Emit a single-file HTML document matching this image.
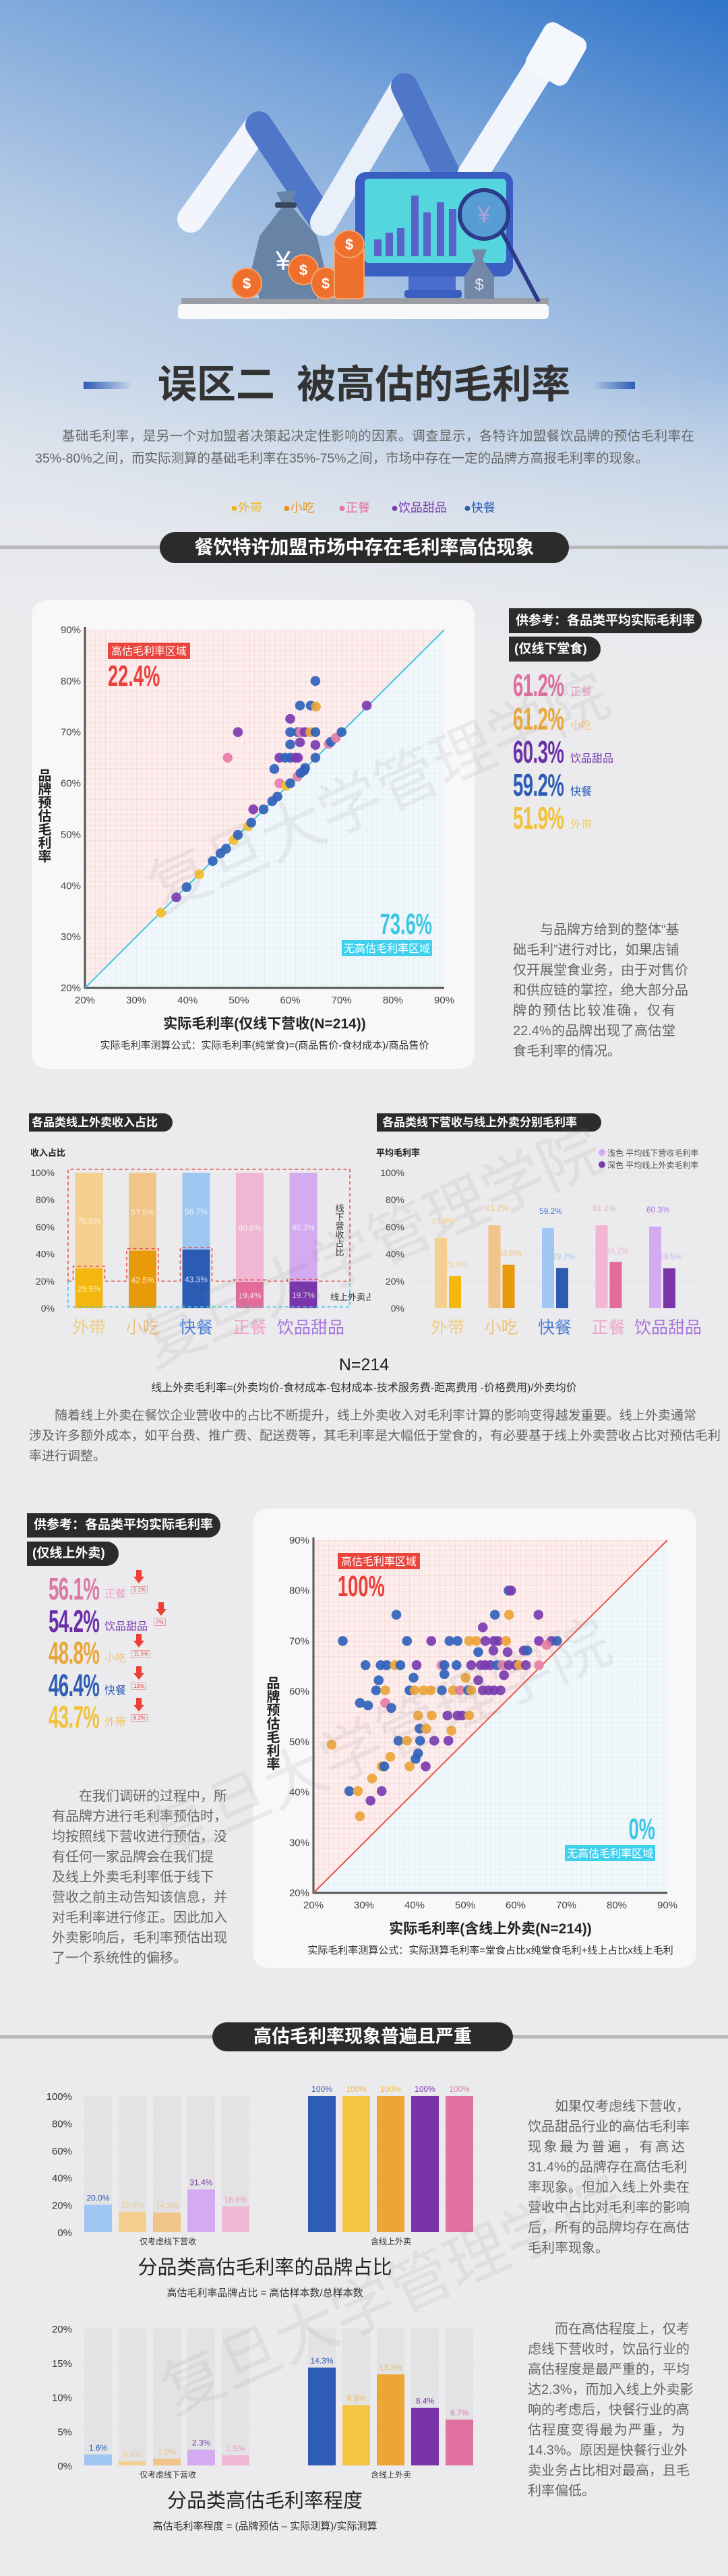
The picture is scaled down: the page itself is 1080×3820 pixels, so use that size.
<!DOCTYPE html>
<html><head><meta charset="utf-8">
<style>
*{margin:0;padding:0;box-sizing:border-box}
body{width:1080px;height:3820px;position:relative;overflow:hidden;background:#ebebed;font-family:"Liberation Sans","Noto Sans CJK SC",sans-serif;color:#444}
.abs{position:absolute}
.pill{position:absolute;background:#2b2b2b;color:#fff;font-weight:bold;border-radius:0 22px 22px 0;white-space:nowrap}
.cpill{position:absolute;background:#2b2b2b;color:#fff;font-weight:bold;border-radius:24px;text-align:center;white-space:nowrap}
.para{position:absolute;color:#666;font-size:20px;line-height:30px}
.para span{display:block;text-align:justify;text-align-last:justify;white-space:nowrap;overflow:visible}
.para span.l{text-align-last:left}
.big{position:absolute;font-weight:bold;font-size:46px;line-height:40px;transform:scaleX(0.6);transform-origin:left center;white-space:nowrap;letter-spacing:-1px}
.lab{position:absolute;font-size:19px;white-space:nowrap}
.wm{position:absolute;font-size:92px;color:rgba(130,130,130,0.11);white-space:nowrap;transform:translate(-50%,-50%) rotate(-24deg);pointer-events:none;z-index:5}
svg text{font-family:"Liberation Sans","Noto Sans CJK SC",sans-serif}
</style></head><body>

<div class="abs" style="left:0;top:0;width:1080px;height:1000px;background:linear-gradient(180deg,rgba(235,235,237,0) 55%,#ebebed 100%),linear-gradient(200deg,#2f74c9 0%,#7aa5da 25%,#b5cbe6 50%,#dfe5ee 80%,#e6e8ec 100%)"></div>

<svg class="abs" style="left:0;top:0" width="1080" height="500" viewBox="0 0 1080 500">
  <g stroke-linecap="round" fill="none">
    <path d="M283,325 L384,185" stroke="#f2f6fc" stroke-width="40"/>
    <path d="M384,185 L480,330" stroke="#4f77c8" stroke-width="40"/>
    <path d="M480,330 L600,128" stroke="#e9f0fa" stroke-width="40"/>
    <path d="M600,128 L676,285" stroke="#4f77c8" stroke-width="40"/>
    <path d="M700,260 L820,70" stroke="#f0f5fc" stroke-width="44"/>
  </g>
  <rect x="790" y="40" width="70" height="80" rx="14" fill="#f4f8fd" transform="rotate(30 825 80)"/>
  <rect x="269" y="442" width="545" height="9" fill="#9a9da3"/>
  <rect x="264" y="451" width="550" height="22" rx="6" fill="#f8f9fb"/>
  <rect x="527" y="255" width="234" height="155" rx="16" fill="#3a5fc3"/>
  <rect x="541" y="265" width="210" height="125" rx="6" fill="#55d6df"/>
  <g fill="#5a63c9">
    <rect x="555" y="355" width="11" height="25"/><rect x="572" y="345" width="11" height="35"/><rect x="589" y="338" width="11" height="42"/>
    <rect x="610" y="290" width="11" height="90"/><rect x="628" y="315" width="11" height="65"/><rect x="648" y="300" width="11" height="80"/><rect x="666" y="310" width="11" height="70"/>
  </g>
  <rect x="606" y="410" width="70" height="32" fill="#4a6ccc"/>
  <rect x="600" y="430" width="85" height="12" rx="4" fill="#3a5fc3"/>
  <line x1="745" y1="345" x2="798" y2="445" stroke="#2c3a8a" stroke-width="6" stroke-linecap="round"/>
  <circle cx="718" cy="318" r="36" fill="rgba(90,110,200,0.55)" stroke="#2c3a8a" stroke-width="6"/>
  <text x="718" y="330" font-size="34" fill="#b0a0d8" text-anchor="middle">¥</text>
  <path d="M410,285 L440,282 L432,305 L470,350 L482,400 L470,443 L385,443 L373,400 L385,350 L420,305 Z" fill="#6783a6"/>
  <rect x="408" y="300" width="32" height="8" rx="3" fill="#35465e"/>
  <text x="420" y="400" font-size="40" fill="#fff" text-anchor="middle">¥</text>
  <g fill="#ef6f2c" stroke="#f7a36c" stroke-width="2">
    <circle cx="366" cy="420" r="22"/>
    <ellipse cx="450" cy="400" rx="22" ry="22"/>
    <ellipse cx="483" cy="420" rx="21" ry="23"/>
    <rect x="496" y="365" width="44" height="78" rx="6"/>
    <ellipse cx="518" cy="362" rx="22" ry="20"/>
  </g>
  <g fill="#fff" font-size="22" font-weight="bold" text-anchor="middle">
    <text x="366" y="428">$</text><text x="483" y="428">$</text><text x="518" y="370">$</text><text x="450" y="408">$</text>
  </g>
  <path d="M700,370 L722,370 L716,385 L733,410 L733,443 L689,443 L689,410 L705,385 Z" fill="#7388a8"/>
  <text x="711" y="430" font-size="24" fill="#dfe6f0" text-anchor="middle">$</text>
</svg>

<div class="abs" style="left:124px;top:566px;width:72px;height:11px;background:linear-gradient(90deg,#2d5cb5,rgba(45,92,181,0))"></div>
<div class="abs" style="left:880px;top:566px;width:62px;height:11px;background:linear-gradient(270deg,#2d5cb5,rgba(45,92,181,0))"></div>
<div class="abs" style="left:230px;top:538px;width:620px;text-align:center;font-size:58px;font-weight:bold;color:#333;line-height:66px">误区二&nbsp;&nbsp;被高估的毛利率</div>

<div class="para" style="left:52px;top:631px;width:978px;font-size:19.5px;line-height:33px">
  <span>　　基础毛利率，是另一个对加盟者决策起决定性影响的因素。调查显示，各特许加盟餐饮品牌的预估毛利率在</span>
  <span class="l">35%-80%之间，而实际测算的基础毛利率在35%-75%之间，市场中存在一定的品牌方高报毛利率的现象。</span>
</div>

<div class="abs" style="left:0;top:739px;width:1080px;height:26px;font-size:18px">
  <span class="abs" style="left:342px;color:#f2b619">●外带</span>
  <span class="abs" style="left:420px;color:#e8961a">●小吃</span>
  <span class="abs" style="left:502px;color:#e4729e">●正餐</span>
  <span class="abs" style="left:580px;color:#7b3bb0">●饮品甜品</span>
  <span class="abs" style="left:688px;color:#2d5cb5">●快餐</span>
</div>

<div class="abs" style="left:0;top:809px;width:1080px;height:5px;background:#b8b8ba"></div>
<div class="cpill" style="left:237px;top:789px;width:607px;height:46px;line-height:46px;font-size:28px">餐饮特许加盟市场中存在毛利率高估现象</div>

<div class="abs" style="left:47px;top:890px;width:657px;height:695px;background:#f8f8f9;border-radius:22px"></div>
<svg class="abs" id="sc1" style="left:47px;top:890px" width="657" height="695" viewBox="47 890 657 695"></svg>

<div class="pill" style="left:755px;top:902px;width:286px;height:37px;line-height:37px;font-size:19px;padding-left:10px">供参考：各品类平均实际毛利率</div>
<div class="pill" style="left:755px;top:944px;width:136px;height:37px;line-height:37px;font-size:19px;padding-left:8px">(仅线下堂食)</div>

<div class="big" style="left:761px;top:996px;color:#df6f9f">61.2%</div><div class="lab" style="left:846px;top:1012px;color:#e7a0bf;font-size:16px">正餐</div>
<div class="big" style="left:761px;top:1046px;color:#eda93a">61.2%</div><div class="lab" style="left:846px;top:1062px;color:#efc285;font-size:16px">小吃</div>
<div class="big" style="left:761px;top:1095px;color:#6a2fa6">60.3%</div><div class="lab" style="left:846px;top:1111px;color:#7b3bb0;font-size:16px">饮品甜品</div>
<div class="big" style="left:761px;top:1144px;color:#2d5cb5">59.2%</div><div class="lab" style="left:846px;top:1160px;color:#2d5cb5;font-size:16px">快餐</div>
<div class="big" style="left:761px;top:1193px;color:#f2c23a">51.9%</div><div class="lab" style="left:846px;top:1209px;color:#f2c860;font-size:16px">外带</div>

<div class="para" style="left:761px;top:1364px;width:241px">
<span>　　与品牌方给到的整体“基</span><span>础毛利”进行对比，如果店铺</span><span>仅开展堂食业务，由于对售价</span><span>和供应链的掌控，绝大部分品</span><span>牌的预估比较准确，仅有</span><span>22.4%的品牌出现了高估堂</span><span class="l">食毛利率的情况。</span>
</div>

<div class="pill" style="left:43px;top:1651px;width:213px;height:27px;line-height:27px;font-size:17px;padding-left:4px">各品类线上外卖收入占比</div>
<div class="pill" style="left:559px;top:1651px;width:333px;height:27px;line-height:27px;font-size:17px;padding-left:8px">各品类线下营收与线上外卖分别毛利率</div>
<svg class="abs" id="bar1" style="left:30px;top:1695px" width="520" height="300" viewBox="30 1695 520 300"></svg>
<svg class="abs" id="bar2" style="left:550px;top:1695px" width="510" height="300" viewBox="550 1695 510 300"></svg>

<div class="abs" style="left:0;top:2010px;width:1080px;text-align:center;font-size:25px;color:#222">N=214</div>
<div class="abs" style="left:0;top:2044px;width:1080px;text-align:center;font-size:16px;color:#333">线上外卖毛利率=(外卖均价-食材成本-包材成本-技术服务费-距离费用 -价格费用)/外卖均价</div>
<div class="para" style="left:43px;top:2085px;width:990px;font-size:19px">
<span>　　随着线上外卖在餐饮企业营收中的占比不断提升，线上外卖收入对毛利率计算的影响变得越发重要。线上外卖通常</span><span>涉及许多额外成本，如平台费、推广费、配送费等，其毛利率是大幅低于堂食的，有必要基于线上外卖营收占比对预估毛利</span><span class="l">率进行调整。</span>
</div>

<div class="pill" style="left:40px;top:2244px;width:287px;height:36px;line-height:36px;font-size:19px;padding-left:10px">供参考：各品类平均实际毛利率</div>
<div class="pill" style="left:40px;top:2286px;width:136px;height:36px;line-height:36px;font-size:19px;padding-left:8px">(仅线上外卖)</div>
<div id="ref2"></div>

<div class="para" style="left:77px;top:2649px;width:240px">
<span>　　在我们调研的过程中，所</span><span>有品牌方进行毛利率预估时，</span><span>均按照线下营收进行预估，没</span><span>有任何一家品牌会在我们提</span><span>及线上外卖毛利率低于线下</span><span>营收之前主动告知该信息，并</span><span>对毛利率进行修正。因此加入</span><span>外卖影响后，毛利率预估出现</span><span class="l">了一个系统性的偏移。</span>
</div>

<div class="abs" style="left:375px;top:2237px;width:658px;height:681px;background:#f8f8f9;border-radius:22px"></div>
<svg class="abs" id="sc2" style="left:375px;top:2237px" width="658" height="681" viewBox="375 2237 658 681"></svg>

<div class="abs" style="left:0;top:3018px;width:1080px;height:5px;background:#b8b8ba"></div>
<div class="cpill" style="left:315px;top:2999px;width:446px;height:43px;line-height:43px;font-size:27px">高估毛利率现象普遍且严重</div>
<svg class="abs" id="bar3" style="left:50px;top:3080px" width="700" height="340" viewBox="50 3080 700 340"></svg>
<svg class="abs" id="bar4" style="left:50px;top:3430px" width="700" height="340" viewBox="50 3430 700 340"></svg>

<div class="para" style="left:783px;top:3109px;width:233px">
<span>　　如果仅考虑线下营收，</span><span>饮品甜品行业的高估毛利率</span><span>现象最为普遍，有高达</span><span>31.4%的品牌存在高估毛利</span><span>率现象。但加入线上外卖在</span><span>营收中占比对毛利率的影响</span><span>后，所有的品牌均存在高估</span><span class="l">毛利率现象。</span>
</div>
<div class="para" style="left:783px;top:3439px;width:233px">
<span>　　而在高估程度上，仅考</span><span>虑线下营收时，饮品行业的</span><span>高估程度是最严重的，平均</span><span>达2.3%，而加入线上外卖影</span><span>响的考虑后，快餐行业的高</span><span>估程度变得最为严重，为</span><span>14.3%。原因是快餐行业外</span><span>卖业务占比相对最高，且毛</span><span class="l">利率偏低。</span>
</div>

<div class="wm" style="left:558px;top:1168px">复旦大学管理学院</div>
<div class="wm" style="left:548px;top:1842px">复旦大学管理学院</div>
<div class="wm" style="left:561px;top:2572px">复旦大学管理学院</div>
<div class="wm" style="left:578px;top:3395px">复旦大学管理学院</div>

<script>
const catColors = {"外带":"#f2bd2c","小吃":"#eba43a","正餐":"#e57ea6","饮品甜品":"#7b3bb0","快餐":"#3062bb"};
const s1Actual = [34.8,37.8,39.8,42.3,44.9,46.4,47.5,49,49.8,51.8,52.4,52.8,54.8,56.5,57.5,56.9,57.9,59.2,60,61.4,62,62.7,62.9,57.9,59,60,61,61.5,64.9,60,61.9,64.9,67.5,67.9,68.9,70,60,61.5,62,62.8,63.9,64.9,49.8,47.8,60,61.9,64,65,64.9,74.9];
const s1Est    = [34.7,37.7,39.7,42.2,44.8,46.3,47.2,48.9,49.9,51.6,52.3,54.9,54.9,56.5,57.4,62.8,60,59.5,60,61.3,62,62.5,63,65,65,65,65,65,65,67.6,68,67.5,67.7,68.1,68.9,70,70,70,70,70,70,70,70,65,72.6,75.2,75.2,75,80,75.2];
const s1Cat    = ["外带","饮品甜品","快餐","外带","快餐","快餐","快餐","外带","快餐","外带","快餐","饮品甜品","快餐","快餐","快餐","快餐","正餐","外带","快餐","正餐","快餐","快餐","快餐","饮品甜品","快餐","快餐","饮品甜品","饮品甜品","快餐","快餐","饮品甜品","饮品甜品","正餐","快餐","正餐","快餐","快餐","快餐","正餐","饮品甜品","小吃","快餐","饮品甜品","正餐","饮品甜品","快餐","快餐","小吃","快餐","饮品甜品"];
const s2Actual = [58.6,59.1,36.4,55.9,58.7,64.5,53.5,25.8,38.5,43.3,46.9,48.5,50.8,52.2,54,55.7,56.5,58.1,64.6,67.1,68.2,52.6,55.6,58.4,61.6,62.3,66.1,30.3,33.3,34.5,36.1,37.2,40.4,45.3,45.9,48.3,51.2,53.1,54,55,56.3,57.4,58.6,60,60.7,62,64.6,39.8,45.9,50.1,52.6,57.7,32.9,32.4,34.2,39,40,41.8,43.2,45.4,47.6,49,50.6,51.2,53.5,54.6,55.7,57,29.2,30.8,34.2,35.4,40.7,43.4,46.5,48.5,49.4,50.8,41,42.3,47.3,23.6,36.8,38.5,41.1,43.9,46.7,40.7,35.2,40.2,33.5,34,39,42.2,31.6,27.1,28.8,33.5,31.3,29.2];
const s2Est    = [80,80,75.2,75.2,75.2,75.2,72.7,70,70,70,70,70,70,70,70,70,70,70,70,70,70,67.8,68.1,67.8,68.1,68.1,69.2,65.2,65.2,65.2,65.2,65.2,65.2,65.2,65.2,65.2,65.2,65.2,65.2,65.2,65.2,65.2,65.2,65.2,65.2,65.2,65.2,62.7,63.4,62.7,62.2,63.2,62.2,60.2,60.2,60.2,60.2,60.2,60.2,60.2,60.2,60.2,60.2,60.2,60.2,60.2,60.2,60.2,57.7,57.2,57.7,56.7,55.2,55.2,55.2,55.2,55.2,55.2,52.6,52.6,52.2,49.4,50.2,50.2,50.2,50.2,50.2,47.7,47,46.6,45.1,45.1,45.1,45.1,42.7,40.2,40.2,40.2,38.3,35.2];
const s2Cat    = ["快餐","饮品甜品","快餐","快餐","小吃","饮品甜品","饮品甜品","快餐","快餐","饮品甜品","快餐","快餐","小吃","小吃","饮品甜品","饮品甜品","饮品甜品","小吃","饮品甜品","饮品甜品","快餐","快餐","饮品甜品","饮品甜品","饮品甜品","快餐","正餐","快餐","快餐","快餐","小吃","快餐","饮品甜品","正餐","快餐","快餐","饮品甜品","饮品甜品","饮品甜品","饮品甜品","快餐","正餐","饮品甜品","饮品甜品","小吃","饮品甜品","正餐","快餐","快餐","小吃","饮品甜品","饮品甜品","快餐","快餐","小吃","快餐","小吃","小吃","小吃","快餐","小吃","正餐","快餐","小吃","饮品甜品","饮品甜品","饮品甜品","饮品甜品","快餐","快餐","正餐","快餐","小吃","小吃","饮品甜品","饮品甜品","饮品甜品","小吃","快餐","小吃","小吃","小吃","快餐","小吃","快餐","饮品甜品","饮品甜品","快餐","小吃","快餐","小吃","快餐","小吃","饮品甜品","小吃","快餐","小吃","饮品甜品","饮品甜品","小吃"];
const scatterTicks = [20,30,40,50,60,70,80,90];
const barCats = ["外带","小吃","快餐","正餐","饮品甜品"];
const onlineShare = [29.5,42.5,43.3,19.4,19.7];
const offlineShare = [70.5,57.5,56.7,80.6,80.3];
const offlineMargin = [51.9,61.2,59.2,61.2,60.3];
const onlineMargin = [23.8,32.0,29.7,34.2,29.5];
const shareTicks = [0,20,40,60,80,100];
const ref2Cats = ["正餐","饮品甜品","小吃","快餐","外带"];
const ref2Values = ["56.1%","54.2%","48.8%","46.4%","43.7%"];
const ref2Drops = ["5.1%","7%","11.5%","12%","8.2%"];
const overCats = ["快餐","外带","小吃","饮品甜品","正餐"];
const overShareOffline = [20.0,15.0,14.3,31.4,18.8];
const overShareOnline = [100,100,100,100,100];
const overDegreeOffline = [1.6,0.6,1.0,2.3,1.5];
const overDegreeOnline = [14.3,8.8,13.3,8.4,6.7];
const degreeTicks = [0,5,10,15,20];

const NS="http://www.w3.org/2000/svg";
function mk(parent,tag,attrs,text){const e=document.createElementNS(NS,tag);for(const k in attrs)e.setAttribute(k,attrs[k]);if(text!==undefined)e.textContent=text;parent.appendChild(e);return e;}

const lightC={"外带":"#f4d08f","小吃":"#f1c489","快餐":"#9fc7f1","正餐":"#f0b6d3","饮品甜品":"#d4aaf1"};
const darkC={"外带":"#f3b70f","小吃":"#e99a0b","快餐":"#2b5bb3","正餐":"#e36c9a","饮品甜品":"#7b35ab"};
const labC={"外带":"#f1cd7d","小吃":"#efc27d","快餐":"#4f7fd2","正餐":"#eea6c5","饮品甜品":"#a874dc"};
const grp2C={"快餐":"#2f5cb4","外带":"#f6c443","小吃":"#eba636","饮品甜品":"#7a33aa","正餐":"#e071a1"};

function scatter(id,X0,X1,Y0,Y1,xs,ys,cats,diag,xTitle,formula,topPct,botPct,fx){
  const svg=document.getElementById(id);
  const sx=v=>X0+(v-20)/70*(X1-X0), sy=v=>Y0-(v-20)/70*(Y0-Y1);
  const pid=id+'p';
  const defs=mk(svg,'defs',{});
  const cell=(X1-X0)/70;
  const p1=mk(defs,'pattern',{id:pid+'r',width:cell,height:cell,patternUnits:'userSpaceOnUse',x:X0,y:Y1});
  mk(p1,'rect',{width:cell,height:cell,fill:'#fdeeee'});
  mk(p1,'path',{d:`M${cell},0 L0,0 L0,${cell}`,stroke:'#f2c4c4','stroke-width':0.8,fill:'none'});
  const p2=mk(defs,'pattern',{id:pid+'b',width:cell,height:cell,patternUnits:'userSpaceOnUse',x:X0,y:Y1});
  mk(p2,'rect',{width:cell,height:cell,fill:'#f1f8fb'});
  mk(p2,'path',{d:`M${cell},0 L0,0 L0,${cell}`,stroke:'#d3e7ef','stroke-width':0.8,fill:'none'});
  const up=mk(svg,'polygon',{points:`${X0},${Y0} ${X0},${Y1} ${X1},${Y1}`,fill:`url(#${pid}r)`});
  
  
  const dn=mk(svg,'polygon',{points:`${X0},${Y0} ${X1},${Y0} ${X1},${Y1}`,fill:`url(#${pid}b)`});
  
  
  const ax=mk(svg,'path',{d:`M${X0},${Y1-4} L${X0},${Y0} L${X1},${Y0}`,stroke:'#555',fill:'none','stroke-width':3});
  
  
  scatterTicks.forEach(t=>{
    const yl=mk(svg,'text',{x:X0-6,y:sy(t)+5,'font-size':15,fill:'#444','text-anchor':'end'},t+'%');
    
    
    const xl=mk(svg,'text',{x:sx(t),y:Y0+23,'font-size':15,fill:'#444','text-anchor':'middle'},t+'%');
    
    
  });
  const dl=mk(svg,'line',{x1:sx(20),y1:sy(20),x2:sx(90),y2:sy(90),stroke:diag,'stroke-width':2});
  
  
  xs.forEach((v,i)=>{
    const c=mk(svg,'circle',{cx:sx(v),cy:sy(ys[i]),r:7.3,fill:catColors[cats[i]],opacity:0.92});
    
    
  });
  const bx=X0+(fx?36:34);
  const rb=mk(svg,'rect',{x:bx,y:Y1+19,width:122,height:24,fill:'#e9453c'});
  
  
  mk(svg,'text',{x:bx+61,y:Y1+37,'font-size':16,fill:'#fff','text-anchor':'middle'},'高估毛利率区域');
  const tp=mk(svg,'text',{x:bx,y:Y1+83,'font-size':44,'font-weight':'bold',fill:'#e8403a',transform:`translate(${bx},0) scale(0.62,1) translate(${-bx},0)`},topPct);
  
  
  const cb=mk(svg,'rect',{x:X1-152,y:Y0-71,width:134,height:24,fill:'#3fd0ee'});
  
  
  mk(svg,'text',{x:X1-85,y:Y0-53,'font-size':16,fill:'#fff','text-anchor':'middle'},'无高估毛利率区域');
  const bp=mk(svg,'text',{x:X1-18,y:Y0-80,'font-size':44,'font-weight':'bold',fill:'#3cc6e4','text-anchor':'end',transform:`translate(${X1-18},0) scale(0.62,1) translate(${-(X1-18)},0)`},botPct);
  
  
  const yt=mk(svg,'text',{x:X0-62,y:(Y0+Y1)/2-60,'font-size':20,'font-weight':'bold',fill:'#222','writing-mode':'tb'},'品牌预估毛利率');
  
  
  const xt=mk(svg,'text',{x:(X0+X1)/2,y:Y0+60,'font-size':21,'font-weight':'bold',fill:'#222','text-anchor':'middle'},xTitle);
  
  
  const ft=mk(svg,'text',{x:(X0+X1)/2,y:Y0+90,'font-size':15,fill:'#333','text-anchor':'middle'},formula);
  
  
}
scatter('sc1',126,659,1465,934,s1Actual,s1Est,s1Cat,'#3fc4e0','实际毛利率(仅线下营收(N=214))','实际毛利率测算公式：实际毛利率(纯堂食)=(商品售价-食材成本)/商品售价','22.4%','73.6%',false);
scatter('sc2',465,990,2807,2284,s2Actual,s2Est,s2Cat,'#e8534f','实际毛利率(含线上外卖(N=214))','实际毛利率测算公式：实际测算毛利率=堂食占比x纯堂食毛利+线上占比x线上毛利','100%','0%',true);

(function(){
  const svg=document.getElementById('bar1');
  const Y0=1940,Y1=1739,sy=v=>Y0-v/100*(Y0-Y1);
  const cx=i=>132+i*79.5, w=41;
  mk(svg,'text',{x:45,y:1714,'font-size':13,'font-weight':'bold',fill:'#222'},'收入占比');
  shareTicks.forEach(t=>{const e=mk(svg,'text',{x:81,y:sy(t)+5,'font-size':14,fill:'#444','text-anchor':'end'},t+'%');
    
    });
  barCats.forEach((c,i)=>{
    const x=cx(i)-w/2;
    const on=mk(svg,'rect',{x:x,y:sy(onlineShare[i]),width:w,height:Y0-sy(onlineShare[i]),fill:darkC[c]});
    
    
    const off=mk(svg,'rect',{x:x,y:sy(onlineShare[i]+offlineShare[i]),width:w,height:sy(onlineShare[i])-sy(onlineShare[i]+offlineShare[i]),fill:lightC[c]});
    
    
    mk(svg,'text',{x:cx(i),y:sy(onlineShare[i]/2)+5,'font-size':12,fill:'rgba(255,255,255,0.75)','text-anchor':'middle'},onlineShare[i].toFixed(1)+'%');
    mk(svg,'text',{x:cx(i),y:sy(onlineShare[i]+offlineShare[i]/2)+5,'font-size':12,fill:'rgba(255,255,255,0.75)','text-anchor':'middle'},offlineShare[i].toFixed(1)+'%');
    const l=mk(svg,'text',{x:cx(i)+(i===4?11:0),y:1977,'font-size':25,fill:labC[c],'text-anchor':'middle'},c);
    
    
  });
  const L=101,R=519,base=sy(20);
  let d=`M${L},${base}`;
  barCats.forEach((c,i)=>{const top=Math.min(base,sy(onlineShare[i])-3);const a=cx(i)-w/2-3,b=cx(i)+w/2+3;d+=` L${a},${base} L${a},${top} L${b},${top} L${b},${base}`;});
  d+=` L${R},${base}`;
  const red=mk(svg,'path',{d:d+` L${R},1734 L${L},1734 Z`,fill:'none',stroke:'#e8534f','stroke-width':1.6,'stroke-dasharray':'5,4'});
  
  
  const cy=mk(svg,'path',{d:`M${L},${base} L${L},1938 L${R},1938 L${R},${base}`,fill:'none',stroke:'#3fcbe8','stroke-width':1.6,'stroke-dasharray':'5,4'});
  
  
  mk(svg,'text',{x:503,y:1785,'font-size':13,fill:'#333','writing-mode':'tb'},'线下营收占比');
  mk(svg,'text',{x:490,y:1928,'font-size':13,fill:'#333'},'线上外卖占比');
})();

(function(){
  const svg=document.getElementById('bar2');
  const Y0=1940,Y1=1739,sy=v=>Y0-v/100*(Y0-Y1);
  const cx=i=>664+i*79.5, w=18;
  mk(svg,'text',{x:558,y:1714,'font-size':13,'font-weight':'bold',fill:'#222'},'平均毛利率');
  shareTicks.forEach(t=>{
    if(t>0){const g=mk(svg,'line',{x1:610,y1:sy(t),x2:1040,y2:sy(t),stroke:'#e2e2e4','stroke-width':1});
      
      }
    const e=mk(svg,'text',{x:600,y:sy(t)+5,'font-size':14,fill:'#444','text-anchor':'end'},t+'%');
    
    
  });
  barCats.forEach((c,i)=>{
    const a=mk(svg,'rect',{x:cx(i)-w-1,y:sy(offlineMargin[i]),width:w,height:Y0-sy(offlineMargin[i]),fill:lightC[c]});
    
    
    const b=mk(svg,'rect',{x:cx(i)+2,y:sy(onlineMargin[i]),width:w,height:Y0-sy(onlineMargin[i]),fill:darkC[c]});
    
    
    mk(svg,'text',{x:cx(i)-6,y:sy(offlineMargin[i])-21,'font-size':12,fill:labC[c],'text-anchor':'middle'},offlineMargin[i].toFixed(1)+'%');
    mk(svg,'text',{x:cx(i)+13,y:sy(onlineMargin[i])-13,'font-size':12,fill:lightC[c],'text-anchor':'middle'},onlineMargin[i].toFixed(1)+'%');
    const l=mk(svg,'text',{x:cx(i)+(i===4?9:0),y:1977,'font-size':25,fill:labC[c],'text-anchor':'middle'},c);
    
    
  });
  mk(svg,'circle',{cx:893,cy:1709,r:5,fill:'#d4aaf1'});
  mk(svg,'text',{x:901,y:1714,'font-size':12,fill:'#555'},'浅色 平均线下营收毛利率');
  mk(svg,'circle',{cx:893,cy:1727,r:5,fill:'#7b35ab'});
  mk(svg,'text',{x:901,y:1732,'font-size':12,fill:'#555'},'深色 平均线上外卖毛利率');
})();

(function(){
  const host=document.getElementById('ref2');
  const vc={"正餐":"#dd77a6","饮品甜品":"#6a2fa6","小吃":"#eaa638","快餐":"#2d5cb5","外带":"#f2c23a"};
  const lc={"正餐":"#e7a0bf","饮品甜品":"#7b3bb0","小吃":"#efc285","快餐":"#2d5cb5","外带":"#f2c860"};
  ref2Cats.forEach((c,i)=>{
    const y=2336+i*47.5;
    const v=document.createElement('div');
    
    
    v.className='big';v.style.left='72px';v.style.top=y+'px';v.style.color=vc[c];v.textContent=ref2Values[i];host.appendChild(v);
    const l=document.createElement('div');
    
    
    l.className='lab';l.style.left='155px';l.style.top=(y+14)+'px';l.style.fontSize='16px';l.style.color=lc[c];l.textContent=c;host.appendChild(l);
    const ax=c==='饮品甜品'?228:195;
    const ar=document.createElement('div');
    
    
    ar.style.cssText=`position:absolute;left:${ax+3}px;top:${y+2}px;width:0;height:0;border-left:8px solid transparent;border-right:8px solid transparent;border-top:10px solid #ee3f34`;
    const st=document.createElement('div');
    st.style.cssText=`position:absolute;left:${ax+7}px;top:${y-8}px;width:8px;height:11px;background:#ee3f34`;
    host.appendChild(st);host.appendChild(ar);
    const bx=document.createElement('div');
    
    
    bx.style.cssText=`position:absolute;left:${ax}px;top:${y+16}px;padding:0 2px;height:11px;line-height:10px;font-size:8px;color:#e8403a;border:1px solid #f0a0a0;white-space:nowrap`;
    bx.textContent=ref2Drops[i];host.appendChild(bx);
  });
})();

function groupChart(id,Y0,Y1,maxV,ticks,off,on,title,sub,fmt){
  const svg=document.getElementById(id);
  const sy=v=>Y0-v/maxV*(Y0-Y1);
  const x1=i=>125+i*51, x2=i=>457+i*51, w=41;
  ticks.forEach(t=>{
    const g=mk(svg,'line',{x1:120,y1:sy(t),x2:730,y2:sy(t),stroke:'#e4e4e6','stroke-width':1});
    
    
    const e=mk(svg,'text',{x:107,y:sy(t)+6,'font-size':15,fill:'#333','text-anchor':'end'},t+'%');
    
    
  });
  overCats.forEach((c,i)=>{
    [x1(i),x2(i)].forEach(x=>mk(svg,'rect',{x:x,y:Y1,width:w,height:Y0-Y1,fill:'#e3e3e6'}));
    const a=mk(svg,'rect',{x:x1(i),y:sy(off[i]),width:w,height:Y0-sy(off[i]),fill:lightC[c]});
    
    
    mk(svg,'text',{x:x1(i)+w/2,y:sy(off[i])-6,'font-size':12,fill:c==='外带'||c==='小吃'?'#f0c77a':(c==='正餐'?'#e79ab8':darkC[c]),'text-anchor':'middle'},off[i].toFixed(1)+'%');
    const b=mk(svg,'rect',{x:x2(i),y:sy(on[i]),width:w,height:Y0-sy(on[i]),fill:grp2C[c]});
    
    
    mk(svg,'text',{x:x2(i)+w/2,y:sy(on[i])-6,'font-size':12,fill:c==='外带'||c==='小吃'?'#f0b84a':(c==='正餐'?'#e37aa6':grp2C[c]),'text-anchor':'middle'},fmt(on[i]));
  });
  mk(svg,'text',{x:249,y:Y0+18,'font-size':12,fill:'#333','text-anchor':'middle'},'仅考虑线下营收');
  mk(svg,'text',{x:580,y:Y0+18,'font-size':12,fill:'#333','text-anchor':'middle'},'含线上外卖');
  const t=mk(svg,'text',{x:393,y:Y0+62,'font-size':29,fill:'#222','text-anchor':'middle'},title);
  
  
  mk(svg,'text',{x:393,y:Y0+95,'font-size':15,fill:'#333','text-anchor':'middle'},sub);
}
groupChart('bar3',3310,3108,100,shareTicks,overShareOffline,overShareOnline,'分品类高估毛利率的品牌占比','高估毛利率品牌占比 = 高估样本数/总样本数',v=>v+'%');
groupChart('bar4',3656,3453,20,degreeTicks,overDegreeOffline,overDegreeOnline,'分品类高估毛利率程度','高估毛利率程度 = (品牌预估 – 实际测算)/实际测算',v=>v.toFixed(1)+'%');
</script>
</body></html>
